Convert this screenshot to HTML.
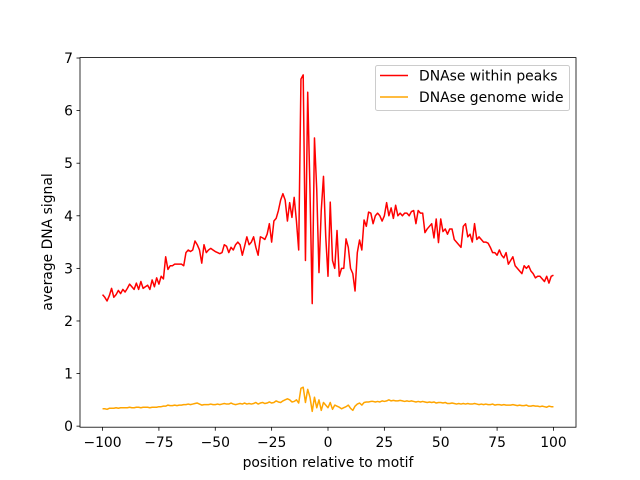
<!DOCTYPE html>
<html><head><meta charset="utf-8"><style>
body{margin:0;background:#fff}
svg{display:block;font-family:"DejaVu Sans","Liberation Sans",sans-serif}
</style></head><body>
<svg id="chart" width="640" height="480" xmlns="http://www.w3.org/2000/svg">
<rect width="640" height="480" fill="#fff"/>
<g id="plot"></g>
<rect x="80" y="57.6" width="496" height="369.6" fill="none" stroke="#000" stroke-width="0.8"/>
<g id="xt"></g><g id="yt"></g>
<text x="328" y="467" font-size="13.9" text-anchor="middle">position relative to motif</text>
<text transform="translate(52,242) rotate(-90)" font-size="13.9" text-anchor="middle">average DNA signal</text>
<g>
<rect x="375.5" y="65.5" width="194" height="45" rx="2" fill="#fff" fill-opacity="0.8" stroke="#ccc"/>
<g><line x1="380" y1="75.5" x2="408" y2="75.5" stroke="red" stroke-width="1.5"/><text x="419" y="80.5" font-size="13.9">DNAse within peaks</text></g>
<g><line x1="380" y1="97" x2="408" y2="97" stroke="orange" stroke-width="1.5"/><text x="419" y="102" font-size="13.9">DNAse genome wide</text></g>
</g>
</svg>
<script>
const xStart = -100;
const xTicks = [-100,-75,-50,-25,0,25,50,75,100];
const yTicks = [0,1,2,3,4,5,6,7];
const peaks = [
2.50,2.45,2.38,2.48,2.62,2.45,2.50,2.58,2.52,2.60,
2.55,2.62,2.70,2.65,2.60,2.72,2.60,2.75,2.62,2.65,
2.68,2.60,2.78,2.65,2.82,2.70,2.85,2.80,3.22,2.98,
3.05,3.05,3.08,3.08,3.08,3.08,3.05,3.30,3.35,3.32,
3.35,3.52,3.45,3.35,3.10,3.45,3.30,3.35,3.38,3.35,
3.32,3.30,3.28,3.30,3.45,3.42,3.30,3.40,3.35,3.45,
3.50,3.45,3.25,3.42,3.60,3.45,3.50,3.60,3.40,3.25,
3.60,3.58,3.55,3.65,3.85,3.50,3.90,3.95,4.10,4.30,
4.42,4.30,3.90,4.25,3.97,4.35,3.90,3.35,6.60,6.68,
3.15,6.35,4.50,2.33,5.48,4.50,2.92,4.10,4.75,3.60,
2.85,4.26,3.15,3.00,3.72,2.85,3.00,3.00,3.56,3.40,
3.00,2.90,2.57,3.30,3.54,3.35,3.92,3.80,4.07,4.05,
3.85,4.00,4.05,4.00,3.90,4.00,4.25,4.00,4.15,3.95,
4.20,4.00,4.05,4.00,4.05,4.05,4.00,4.08,4.10,3.85,
4.10,4.05,4.05,3.68,3.75,3.80,3.85,3.58,3.94,3.49,
3.94,3.70,3.75,3.65,3.75,3.75,3.55,3.50,3.45,3.40,
3.80,3.85,3.60,3.65,3.50,3.85,3.55,3.60,3.55,3.50,
3.50,3.48,3.40,3.30,3.30,3.25,3.35,3.25,3.20,3.30,
3.08,3.15,3.22,3.05,3.00,2.95,2.90,3.05,3.00,3.05,
2.95,2.90,2.82,2.85,2.85,2.80,2.75,2.85,2.72,2.85,
2.87];
const genome = [
.33,.33,.32,.34,.34,.34,.35,.34,.35,.35,
.35,.35,.36,.35,.35,.36,.36,.35,.36,.36,
.36,.35,.36,.36,.36,.37,.37,.38,.38,.40,
.39,.39,.40,.39,.40,.40,.41,.41,.42,.41,
.42,.43,.44,.42,.40,.41,.41,.41,.42,.41,
.41,.42,.41,.42,.43,.42,.42,.44,.42,.41,
.42,.43,.42,.44,.42,.43,.42,.43,.45,.42,
.44,.45,.43,.44,.46,.44,.45,.48,.46,.45,
.48,.50,.52,.50,.46,.47,.50,.44,.72,.74,
.45,.70,.55,.28,.55,.35,.50,.30,.45,.40,
.35,.45,.32,.40,.38,.36,.33,.35,.37,.40,
.34,.30,.38,.42,.44,.40,.45,.46,.46,.47,
.47,.46,.47,.46,.48,.47,.48,.50,.48,.49,
.48,.48,.49,.48,.47,.48,.47,.48,.47,.46,
.47,.46,.47,.46,.45,.46,.45,.46,.44,.45,
.45,.44,.45,.43,.43,.44,.43,.42,.43,.42,
.43,.42,.43,.42,.42,.43,.42,.41,.42,.41,
.42,.41,.41,.42,.40,.41,.41,.40,.41,.40,
.40,.40,.41,.40,.39,.40,.39,.39,.40,.38,
.38,.39,.38,.38,.37,.38,.37,.36,.38,.37,
.37];
const NS="http://www.w3.org/2000/svg";
const X0=80,X1=576,Y0=427.2,Y1=57.6,xmin=-110,xmax=110,ymin=-0.02,ymax=7.008;
function sx(v){return X0+(v-xmin)/(xmax-xmin)*(X1-X0);}
function sy(v){return Y0-(v-ymin)/(ymax-ymin)*(Y0-Y1);}
const plot=document.getElementById('plot');
function line(data,color,name){
  const p=document.createElementNS(NS,'polyline');
  p.setAttribute('points',data.map((v,i)=>sx(xStart+i).toFixed(2)+','+sy(v).toFixed(2)).join(' '));
  p.setAttribute('fill','none');p.setAttribute('stroke',color);p.setAttribute('stroke-width','1.5');
  p.setAttribute('stroke-linejoin','round');
  
  
  plot.appendChild(p);
}
line(peaks,'red','series-within-peaks');
line(genome,'orange','series-genome-wide');
const xt=document.getElementById('xt');
xTicks.forEach(t=>{
  const g=document.createElementNS(NS,'g');
  
  
  const x=sx(t);
  g.innerHTML=`<line x1="${x}" y1="427.2" x2="${x}" y2="430.7" stroke="#000" stroke-width="0.8"/><text x="${x}" y="447" font-size="13.9" text-anchor="middle">${t<0?'\u2212'+(-t):t}</text>`;
  xt.appendChild(g);
});
const yt=document.getElementById('yt');
yTicks.forEach(t=>{
  const g=document.createElementNS(NS,'g');
  
  
  const y=sy(t);
  g.innerHTML=`<line x1="76.5" y1="${y}" x2="80" y2="${y}" stroke="#000" stroke-width="0.8"/><text x="73" y="${y+5}" font-size="13.9" text-anchor="end">${t}</text>`;
  yt.appendChild(g);
});
</script>
</body></html>
